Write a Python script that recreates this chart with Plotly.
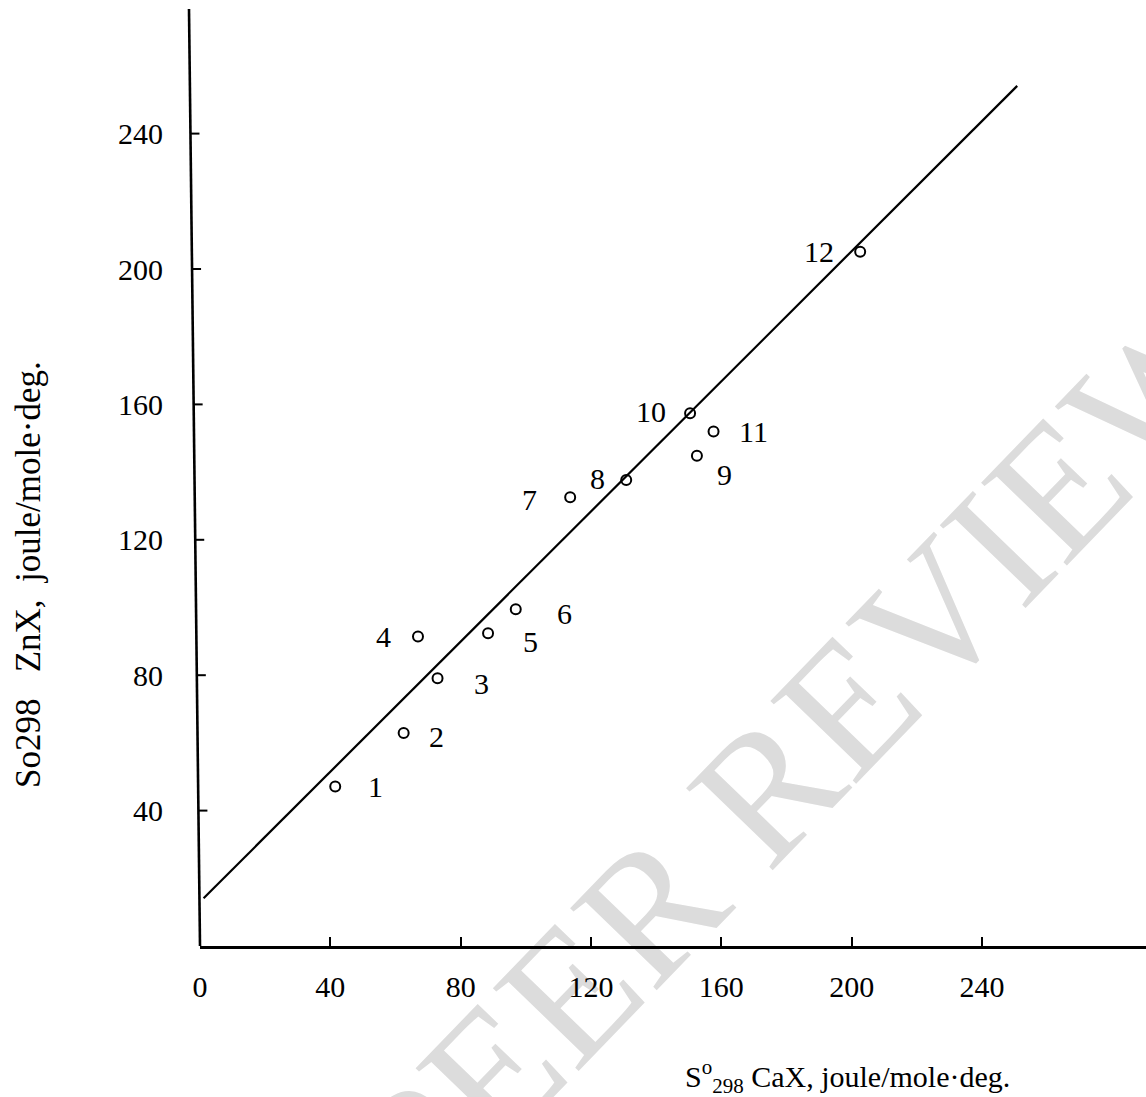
import plotly.graph_objects as go

# ---------------- data ----------------
point_ids = ["1", "2", "3", "4", "5", "6", "7", "8", "9", "10", "11", "12"]
s298_cax = [41.5, 62.5, 72.9, 66.9, 88.4, 96.9, 113.6, 130.8, 152.5, 150.4, 157.6, 202.6]
s298_znx = [47.1, 62.9, 79.1, 91.4, 92.4, 99.5, 132.6, 137.7, 144.8, 157.4, 152.0, 205.1]

fit_x = [1.1, 250.8]
fit_y = [14.1, 254.1]

x_tick_vals = [0, 40, 80, 120, 160, 200, 240]
y_tick_vals = [40, 80, 120, 160, 200, 240]

# label offsets in pixels (style)
label_dx = [40, 33, 44, -34, 42, 49, -41, -29, 28, -39, 40, -41]
label_dy = [0, -3, -5, 0, -8, -4, -2, 1, -19, 2, 0, 0]

# ---------------- geometry / style ----------------
W, H = 1146, 1097
ML, MR, MT, MB = 200, 0, 0, 151
PW = W - ML - MR
PHT = H - MT - MB
PX_PER_X = 3.2585
PX_PER_Y = 3.385
X_MAX = PW / PX_PER_X
Y_MAX = PHT / PX_PER_Y
Y_AXIS_TOP = 276.8
Y_AXIS_SLANT_PX = 11
FONT = "Liberation Serif, Times New Roman, serif"

fig = go.Figure()

fig.add_trace(go.Scatter(
    x=fit_x, y=fit_y, mode="lines",
    line=dict(color="black", width=2.2),
    hoverinfo="skip", showlegend=False,
))

fig.add_trace(go.Scatter(
    x=s298_cax, y=s298_znx, mode="markers",
    marker=dict(symbol="circle-open", size=10, color="black", line=dict(width=2, color="black")),
    showlegend=False,
))

annotations = []
for pid, xv, yv, dx, dy in zip(point_ids, s298_cax, s298_znx, label_dx, label_dy):
    annotations.append(dict(
        x=xv, y=yv, xref="x", yref="y", text=pid, showarrow=False,
        xshift=dx, yshift=dy, font=dict(family=FONT, size=30, color="black"),
        xanchor="center", yanchor="middle",
    ))

# y-axis title (rotated)
annotations.append(dict(
    x=(28 - ML) / PW, y=(PHT - 575) / PHT, xref="paper", yref="paper",
    text="So298\u00a0\u00a0\u00a0ZnX,\u00a0\u00a0joule/mole·deg.",
    showarrow=False, textangle=-90,
    font=dict(family=FONT, size=35, color="black"),
    xanchor="center", yanchor="middle",
))

# x-axis title
annotations.append(dict(
    x=(683 - ML) / PW, y=(PHT - 1076) / PHT, xref="paper", yref="paper",
    text="S<sup>o</sup><sub>298</sub> CaX, joule/mole·deg.",
    showarrow=False,
    font=dict(family=FONT, size=30, color="black"),
    xanchor="left", yanchor="middle",
))

shapes = []
# watermark (below everything)
wx, wy = (785 - ML) / PW, (PHT - 740) / PHT
shapes.append(dict(
    type="rect", xref="paper", yref="paper",
    x0=wx - 0.01, x1=wx + 0.01, y0=wy - 0.01, y1=wy + 0.01,
    line=dict(width=0, color="rgba(0,0,0,0)"), fillcolor="rgba(0,0,0,0)",
    layer="below",
    label=dict(text="PEER REVIEW", textangle=-46, textposition="middle center",
               font=dict(family=FONT, size=182, color="#dcdcdc")),
))

# slanted y-axis line
shapes.append(dict(
    type="line", xref="paper", yref="y",
    x0=0, y0=0, x1=-Y_AXIS_SLANT_PX / PW, y1=Y_AXIS_TOP,
    line=dict(color="black", width=2.6),
))
# y ticks along the slanted axis
for v in y_tick_vals:
    xp = -Y_AXIS_SLANT_PX * v / Y_AXIS_TOP / PW
    shapes.append(dict(
        type="line", xref="paper", yref="y",
        x0=xp, y0=v, x1=xp + 9 / PW, y1=v,
        line=dict(color="black", width=2),
    ))

fig.update_layout(
    width=W, height=H,
    margin=dict(l=ML, r=MR, t=MT, b=MB, pad=0),
    paper_bgcolor="white", plot_bgcolor="white",
    showlegend=False,
    annotations=annotations,
    shapes=shapes,
    xaxis=dict(
        range=[0, X_MAX], showgrid=False, zeroline=False,
        showline=True, linecolor="black", linewidth=2.6,
        ticks="inside", ticklen=9, tickwidth=2, tickcolor="black",
        tickmode="array", tickvals=x_tick_vals, ticktext=[str(v) for v in x_tick_vals],
        tickfont=dict(family=FONT, size=30, color="black"),
        ticklabelstandoff=12,
    ),
    yaxis=dict(
        range=[0, Y_MAX], showgrid=False, zeroline=False, showline=False,
        ticks="",
        tickmode="array", tickvals=y_tick_vals, ticktext=[str(v) for v in y_tick_vals],
        tickfont=dict(family=FONT, size=30, color="black"),
        ticklabelstandoff=36,
    ),
)

fig.write_html("out.html")
